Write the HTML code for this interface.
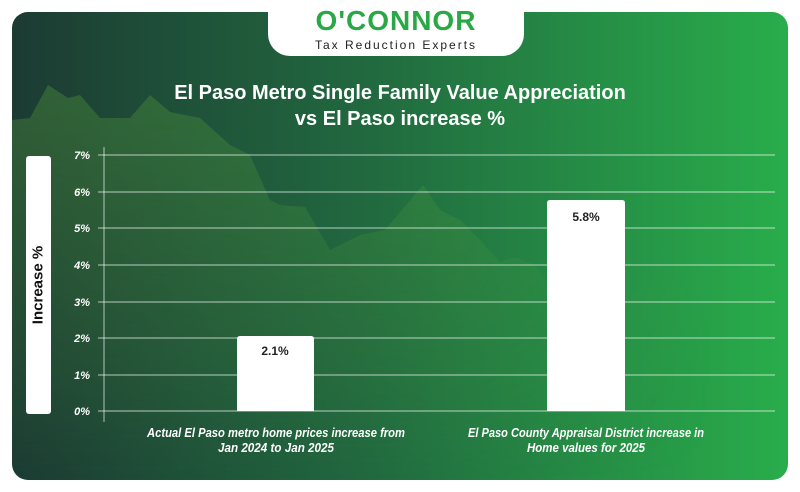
<!DOCTYPE html>
<html><head><meta charset="utf-8"><style>
body{margin:0;width:800px;height:492px;background:#fff;position:relative;overflow:hidden;font-family:"Liberation Sans",sans-serif}
.card{position:absolute;left:12px;top:12px;width:776px;height:468px;border-radius:16px;background:linear-gradient(90deg,#1c3b33 0%,#21683f 45%,#29ad4b 100%);overflow:hidden}
.t{position:absolute;color:#fff;font-weight:bold}
</style></head><body>
<div class="card">
<svg width="776" height="468" style="position:absolute;left:0;top:0">
<defs><linearGradient id="g" x1="0" x2="1" y1="0" y2="0">
<stop offset="0" stop-color="rgb(95,170,60)" stop-opacity="0.38"/>
<stop offset="0.6" stop-color="rgb(95,170,60)" stop-opacity="0.3"/>
<stop offset="0.95" stop-color="rgb(95,170,60)" stop-opacity="0"/>
</linearGradient>
<linearGradient id="v" x1="0" x2="0" y1="0" y2="1">
<stop offset="0" stop-color="#fff" stop-opacity="1"/>
<stop offset="0.75" stop-color="#fff" stop-opacity="0.3"/>
<stop offset="1" stop-color="#fff" stop-opacity="0"/>
</linearGradient>
<mask id="m"><rect width="776" height="468" fill="url(#v)"/></mask></defs>
<polygon mask="url(#m)" fill="url(#g)" points="0,108 18,106 36,73 56,86 68,83 88,106 118,106 138,83 158,100 188,106 218,133 238,143 258,188 268,193 293,195 318,238 348,223 373,218 411,173 428,198 448,208 468,228 488,250 503,245 523,253 548,288 600,300 640,270 660,265 680,280 700,320 740,468 0,468"/>
</svg>
</div>
<div style="position:absolute;left:268px;top:0;width:256px;height:56px;background:#fff;border-radius:0 0 22px 22px"></div>
<div style="position:absolute;left:268px;top:6px;width:256px;text-align:center;color:#2aa845;font-weight:bold;font-size:28px;letter-spacing:1px;line-height:30px">O'CONNOR</div>
<div style="position:absolute;left:268px;top:38px;width:256px;text-align:center;color:#222;font-size:12px;letter-spacing:2px">Tax Reduction Experts</div>
<div class="t" style="left:100px;top:80px;width:600px;text-align:center;font-size:20px;line-height:26px">El Paso Metro Single Family Value Appreciation<br>vs El Paso increase %</div>
<div style="position:absolute;left:26px;top:156px;width:25px;height:258px;background:#fff;border-radius:3px"></div>
<div style="position:absolute;left:38px;top:285px;transform:translate(-50%,-50%) rotate(-90deg);font-weight:bold;font-size:15px;color:#111;white-space:nowrap">Increase %</div>
<svg width="800" height="492" style="position:absolute;left:0;top:0">
<g stroke="rgba(255,255,255,0.55)" stroke-width="1.2">
<line x1="98" x2="775" y1="155" y2="155"/><line x1="98" x2="775" y1="192" y2="192"/><line x1="98" x2="775" y1="228" y2="228"/><line x1="98" x2="775" y1="265" y2="265"/><line x1="98" x2="775" y1="302" y2="302"/><line x1="98" x2="775" y1="338" y2="338"/><line x1="98" x2="775" y1="375" y2="375"/><line x1="98" x2="775" y1="411" y2="411"/>
<line x1="104" x2="104" y1="147" y2="422"/>
</g>
<g fill="#fff" font-size="11" font-weight="bold" font-style="italic" text-anchor="end">
<text x="90" y="159">7%</text><text x="90" y="196">6%</text><text x="90" y="232">5%</text><text x="90" y="269">4%</text><text x="90" y="306">3%</text><text x="90" y="342">2%</text><text x="90" y="379">1%</text><text x="90" y="415">0%</text>
</g>
<path d="M237,411 V339 Q237,336 240,336 H311 Q314,336 314,339 V411 Z" fill="#fff"/>
<path d="M547,411 V203 Q547,200 550,200 H622 Q625,200 625,203 V411 Z" fill="#fff"/>
<g font-size="12" font-weight="bold" fill="#222" text-anchor="middle">
<text x="275" y="355">2.1%</text><text x="586" y="221">5.8%</text>
</g>
<g font-size="12.5" font-weight="bold" font-style="italic" fill="#fff" text-anchor="middle">
<text x="276" y="437" textLength="258" lengthAdjust="spacingAndGlyphs">Actual El Paso metro home prices increase from</text>
<text x="276" y="452" textLength="116" lengthAdjust="spacingAndGlyphs">Jan 2024 to Jan 2025</text>
<text x="586" y="437" textLength="236" lengthAdjust="spacingAndGlyphs">El Paso County Appraisal District increase in</text>
<text x="586" y="452" textLength="118" lengthAdjust="spacingAndGlyphs">Home values for 2025</text>
</g>
</svg>
</body></html>
